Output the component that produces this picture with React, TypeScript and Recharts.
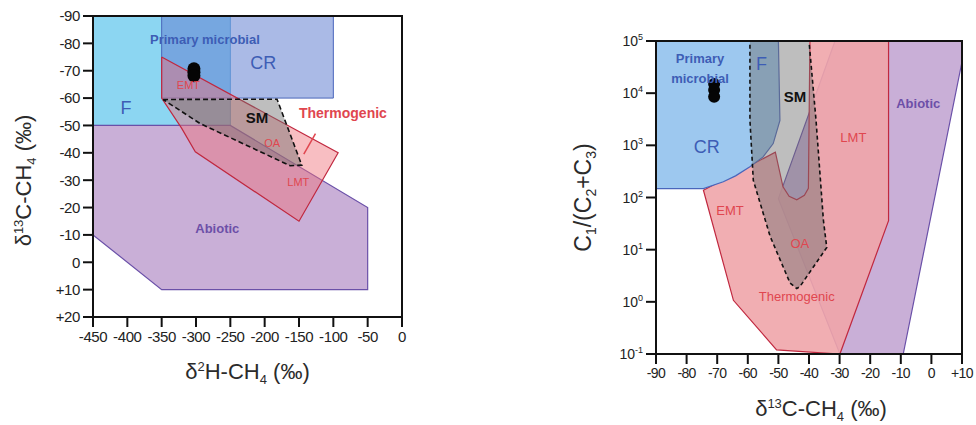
import { ReferenceDot, Scatter, ScatterChart, XAxis, YAxis } from 'recharts'

// left panel: δ2H-CH4 vs δ13C-CH4
const leftXTicks = [-450, -400, -350, -300, -250, -200, -150, -100, -50, 0]
const leftYTicks = [-90, -80, -70, -60, -50, -40, -30, -20, -10, 0, 10, 20]

const leftF = [[-450, -90], [-250, -90], [-250, -50], [-450, -50]]
const leftCR = [[-350, -90], [-100, -90], [-100, -60], [-350, -60]]
const leftAbiotic = [[-450, -50], [-250, -50], [-50, -20], [-50, 10], [-350, 10], [-450, -10]]
const leftThermo = [[-350, -75], [-93, -40], [-150, -15], [-301, -40.4], [-321, -49], [-350, -60]]
const leftSM = [[-348, -59.5], [-182, -59.6], [-146, -35.5], [-163, -35.3], [-294, -50.7]]
const leftPointer = [[-126, -47], [-143, -39.5]]
const leftSamples = [[-303, -70.7], [-303, -69.4], [-303, -68.2]]
const leftFrame = [[-450, -90], [0, -90], [0, 20], [-450, 20]]

const leftLabels = [
  { text: 'Primary microbial', x: -287, y: -81.4, kind: 'blueBold' },
  { text: 'CR', x: -202, y: -72.8, kind: 'blueBig' },
  { text: 'F', x: -402, y: -56.7, kind: 'blueBig' },
  { text: 'SM', x: -211, y: -53, kind: 'black' },
  { text: 'EMT', x: -311, y: -64.7, kind: 'redSmall' },
  { text: 'OA', x: -189, y: -43.6, kind: 'redSmall' },
  { text: 'LMT', x: -151, y: -29.3, kind: 'redSmall' },
  { text: 'Thermogenic', x: -86, y: -54.5, kind: 'redBold' },
  { text: 'Abiotic', x: -269, y: -12.5, kind: 'purpleBold' },
]

// right panel: δ13C-CH4 vs C1/(C2+C3)
const rightXTicks = [-90, -80, -70, -60, -50, -40, -30, -20, -10, 0, 10]
const rightYTicks = [0.1, 1, 10, 100, 1000, 10000, 100000]

const rightCR = [
  [-90, 100000], [-50, 100000], [-49.5, 3000], [-51.7, 1080], [-55, 600], [-59.3, 390],
  [-64, 260], [-68, 200], [-74.5, 148], [-90, 148],
]
const rightAbiotic = [[-31.5, 100000], [10, 100000], [10, 40000], [-9.2, 0.1], [-29.9, 0.1], [-50, 95]]
const rightThermo = [
  [-39.7, 100000], [-14, 100000], [-14, 36], [-29.9, 0.1], [-50.6, 0.12], [-64.7, 1.07],
  [-74.5, 138], [-51, 740], [-48.5, 160], [-46.5, 105], [-44, 90], [-41.5, 110], [-40.2, 150],
]
const rightSM = [
  [-59.3, 100000], [-40, 100000], [-37.7, 3000], [-35.3, 37], [-34.2, 11], [-43, 1.95],
  [-44, 1.8], [-46.2, 2.3], [-52.7, 18], [-58.2, 213], [-59.3, 3000],
]
const rightSamples = [[-71, 15000], [-71, 11500], [-71, 8500]]
const rightFrame = [[-90, 0.1], [10, 0.1], [10, 100000], [-90, 100000]]

const rightLabels = [
  { text: 'Primary', x: -75.6, y: 45700, kind: 'blueBold' },
  { text: 'microbial', x: -75.6, y: 19000, kind: 'blueBold' },
  { text: 'F', x: -55.5, y: 37000, kind: 'blueBig' },
  { text: 'SM', x: -44.6, y: 8500, kind: 'black' },
  { text: 'CR', x: -73.4, y: 930, kind: 'blueBig' },
  { text: 'LMT', x: -25.5, y: 1450, kind: 'red' },
  { text: 'Abiotic', x: -4.3, y: 6300, kind: 'purpleBold' },
  { text: 'EMT', x: -65.8, y: 57, kind: 'red' },
  { text: 'OA', x: -43, y: 13, kind: 'red' },
  { text: 'Thermogenic', x: -44, y: 1.26, kind: 'red' },
]

const FONT = "'Liberation Sans', Arial, sans-serif"

const labelStyles: Record<string, any> = {
  blueBold: { fill: '#3d5db5', fontSize: 13, fontWeight: 700 },
  blueBig: { fill: '#3d5db5', fontSize: 18 },
  black: { fill: '#111', fontSize: 15, fontWeight: 700 },
  redSmall: { fill: '#e0464f', fontSize: 11 },
  red: { fill: '#e0464f', fontSize: 13 },
  redBold: { fill: '#e0464f', fontSize: 14, fontWeight: 700 },
  purpleBold: { fill: '#6d4fa8', fontSize: 13, fontWeight: 700 },
}

const closed = (arr: number[][]) => [...arr, arr[0]].map(([x, y]) => ({ x, y }))
const open = (arr: number[][]) => arr.map(([x, y]) => ({ x, y }))
const noPoint = () => <g />

function Region({ pts, fill, opacity = 1, stroke = 'none', width = 1.2, dash }: any) {
  return (
    <Scatter
      data={closed(pts)}
      shape={noPoint}
      line={{ fill, fillOpacity: opacity, stroke, strokeWidth: width, strokeDasharray: dash }}
      isAnimationActive={false}
      legendType='none'
    />
  )
}

const dot = (r: number) => (p: any) => <circle cx={p.cx} cy={p.cy} r={r} fill='#050505' />

const signed = (v: number) => (v > 0 ? `+${v}` : `${v}`)

function LogTick({ x, y, payload }: any) {
  const exp = Math.round(Math.log10(payload.value))
  return (
    <text x={x} y={y} dy={5} textAnchor='end' fontSize={14} fontFamily={FONT} fill='#222'>
      10<tspan dy={-6} fontSize={9}>{exp}</tspan>
    </text>
  )
}

const titleProps = { fontSize: 22, fontFamily: FONT, fill: '#2b2b2b', textAnchor: 'middle' as const }

function LeftXTitle({ viewBox }: any) {
  const cx = viewBox.x + viewBox.width / 2
  return (
    <text x={cx} y={viewBox.y + 62} {...titleProps}>
      δ<tspan dy={-8} fontSize={13}>2</tspan>
      <tspan dy={8}>H-CH</tspan>
      <tspan dy={5} fontSize={13}>4</tspan>
      <tspan dy={-5}> (‰)</tspan>
    </text>
  )
}

function LeftYTitle({ viewBox }: any) {
  const cx = viewBox.x + viewBox.width - 70
  const cy = viewBox.y + viewBox.height / 2 + 14
  return (
    <text x={cx} y={cy} dy={8} transform={`rotate(-90, ${cx}, ${cy})`} {...titleProps}>
      δ<tspan dy={-8} fontSize={13}>13</tspan>
      <tspan dy={8}>C-CH</tspan>
      <tspan dy={5} fontSize={13}>4</tspan>
      <tspan dy={-5}> (‰)</tspan>
    </text>
  )
}

function RightXTitle({ viewBox }: any) {
  const cx = viewBox.x + viewBox.width / 2 + 12
  return (
    <text x={cx} y={viewBox.y + 62} {...titleProps}>
      δ<tspan dy={-8} fontSize={13}>13</tspan>
      <tspan dy={8}>C-CH</tspan>
      <tspan dy={5} fontSize={13}>4</tspan>
      <tspan dy={-5}> (‰)</tspan>
    </text>
  )
}

function RightYTitle({ viewBox }: any) {
  const cx = viewBox.x + viewBox.width - 73
  const cy = viewBox.y + viewBox.height / 2
  return (
    <text x={cx} y={cy} dy={8} transform={`rotate(-90, ${cx}, ${cy})`} {...titleProps} fontSize={23}>
      C<tspan dy={5} fontSize={14}>1</tspan>
      <tspan dy={-5}>/(C</tspan>
      <tspan dy={5} fontSize={14}>2</tspan>
      <tspan dy={-5}>+C</tspan>
      <tspan dy={5} fontSize={14}>3</tspan>
      <tspan dy={-5}>)</tspan>
    </text>
  )
}

const axisLine = { stroke: '#111', strokeWidth: 2 }

function Labels({ items }: { items: typeof leftLabels }) {
  return items.map((l) => (
    <ReferenceDot
      key={l.text + l.x}
      x={l.x}
      y={l.y}
      r={0}
      fill='none'
      stroke='none'
      label={{ value: l.text, fontFamily: FONT, ...labelStyles[l.kind] }}
    />
  ))
}

export default function App() {
  return (
    <div style={{ position: 'absolute', left: 0, top: 0, width: 976, height: 425, background: '#fff' }}>
      <div style={{ position: 'absolute', left: 0, top: 0 }}>
        <ScatterChart width={420} height={400} margin={{ top: 16, right: 18, bottom: 53, left: 33 }}>
          <XAxis
            type='number'
            dataKey='x'
            domain={[-450, 0]}
            ticks={leftXTicks}
            height={30}
            tickSize={10}
            tickMargin={4}
            axisLine={axisLine}
            tickLine={axisLine}
            tickFormatter={signed}
            tick={{ fontSize: 15, fontFamily: FONT, fill: '#222', letterSpacing: -0.4 }}
            interval={0}
            label={LeftXTitle}
          />
          <YAxis
            type='number'
            dataKey='y'
            domain={[-90, 20]}
            reversed
            ticks={leftYTicks}
            width={60}
            tickSize={10}
            tickMargin={3}
            axisLine={axisLine}
            tickLine={axisLine}
            tickFormatter={signed}
            tick={{ fontSize: 15, fontFamily: FONT, fill: '#222', letterSpacing: -0.4 }}
            interval={0}
            label={LeftYTitle}
          />
          {Region({ pts: leftF, fill: '#8cd6f2', stroke: '#5aa6d8', width: 1 })}
          {Region({ pts: leftAbiotic, fill: '#c9afd7', stroke: '#6a50a8' })}
          {Region({ pts: leftCR, fill: '#6482d2', opacity: 0.55, stroke: '#4a66bb', width: 1 })}
          {Region({ pts: leftThermo, fill: '#f06e78', opacity: 0.45, stroke: '#c0283f' })}
          {Region({ pts: leftSM, fill: '#6e6e6e', opacity: 0.45, stroke: '#111', width: 1.6, dash: '5 3' })}
          <Scatter
            data={open(leftPointer)}
            shape={noPoint}
            line={{ stroke: '#e0464f', strokeWidth: 1.5, fill: 'none' }}
            isAnimationActive={false}
            legendType='none'
          />
          <Scatter data={open(leftSamples)} shape={dot(6.5)} isAnimationActive={false} legendType='none' />
          {Region({ pts: leftFrame, fill: 'none', stroke: '#111', width: 2 })}
          {Labels({ items: leftLabels })}
        </ScatterChart>
      </div>
      <div style={{ position: 'absolute', left: 560, top: 0 }}>
        <ScatterChart width={416} height={425} margin={{ top: 41, right: 14, bottom: 41, left: 36 }}>
          <XAxis
            type='number'
            dataKey='x'
            domain={[-90, 10]}
            ticks={rightXTicks}
            height={30}
            tickSize={10}
            tickMargin={4}
            axisLine={axisLine}
            tickLine={axisLine}
            tickFormatter={signed}
            tick={{ fontSize: 14, fontFamily: FONT, fill: '#222', letterSpacing: -0.6 }}
            interval={0}
            label={RightXTitle}
          />
          <YAxis
            type='number'
            dataKey='y'
            scale='log'
            domain={[0.1, 100000]}
            ticks={rightYTicks}
            width={60}
            tickSize={10}
            tickMargin={3}
            axisLine={axisLine}
            tickLine={axisLine}
            tick={LogTick}
            interval={0}
            label={RightYTitle}
          />
          {Region({ pts: rightAbiotic, fill: '#c9afd7', stroke: '#6a50a8' })}
          {Region({ pts: rightThermo, fill: '#f0a5aa', opacity: 0.9, stroke: '#c0283f' })}
          {Region({ pts: rightCR, fill: '#9dc8ef', stroke: '#4a66bb', width: 1.2 })}
          {Region({ pts: rightSM, fill: '#6e6e6e', opacity: 0.45, stroke: '#111', width: 1.6, dash: '4 3' })}
          <Scatter data={open(rightSamples)} shape={dot(6)} isAnimationActive={false} legendType='none' />
          {Region({ pts: rightFrame, fill: 'none', stroke: '#111', width: 2 })}
          {Labels({ items: rightLabels })}
        </ScatterChart>
      </div>
    </div>
  )
}
